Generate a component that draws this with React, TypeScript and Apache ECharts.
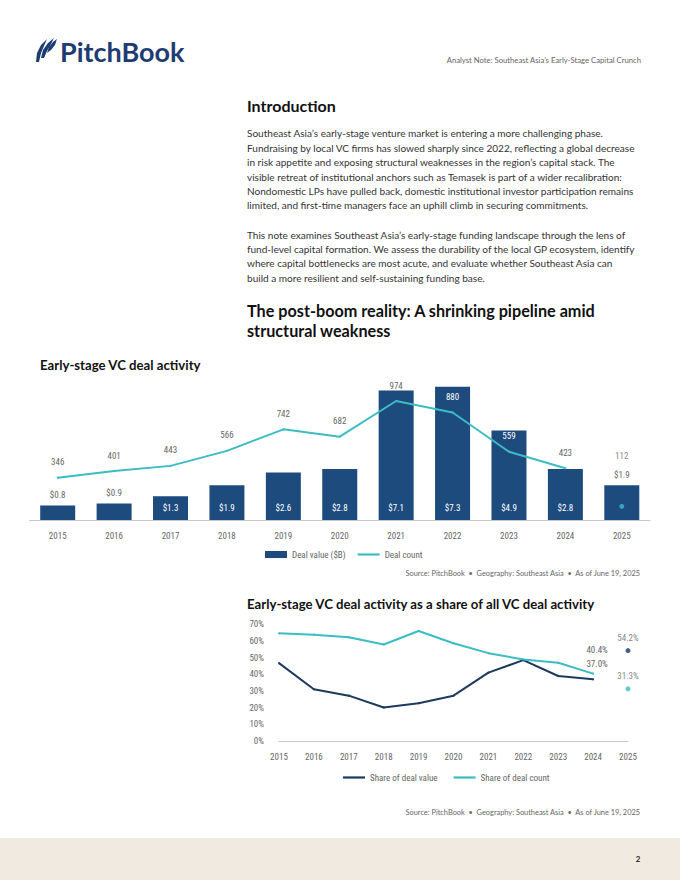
import React, { useEffect, useRef } from "react";
import * as echarts from "echarts";

const YEARS = ["2015", "2016", "2017", "2018", "2019", "2020", "2021", "2022", "2023", "2024", "2025"];
const DEAL_VALUE = [0.8, 0.9, 1.3, 1.9, 2.6, 2.8, 7.1, 7.3, 4.9, 2.8, 1.9];
const DEAL_COUNT = [346, 401, 443, 566, 742, 682, 974, 880, 559, 423, 112];
const SHARE_VALUE = [46.7, 31.0, 27.2, 20.1, 22.7, 27.2, 41.0, 48.5, 39.0, 37.0, 54.2];
const SHARE_COUNT = [64.6, 63.8, 62.2, 57.9, 66.0, 58.6, 52.7, 48.9, 46.9, 40.4, 31.3];
const PCT_TICKS = [0, 10, 20, 30, 40, 50, 60, 70];

const PARA1 = [
  "Southeast Asia\u2019s early-stage venture market is entering a more challenging phase.",
  "Fundraising by local VC firms has slowed sharply since 2022, reflecting a global decrease",
  "in risk appetite and exposing structural weaknesses in the region\u2019s capital stack. The",
  "visible retreat of institutional anchors such as Temasek is part of a wider recalibration:",
  "Nondomestic LPs have pulled back, domestic institutional investor participation remains",
  "limited, and first-time managers face an uphill climb in securing commitments.",
];
const PARA2 = [
  "This note examines Southeast Asia\u2019s early-stage funding landscape through the lens of",
  "fund-level capital formation. We assess the durability of the local GP ecosystem, identify",
  "where capital bottlenecks are most acute, and evaluate whether Southeast Asia can",
  "build a more resilient and self-sustaining funding base.",
];
const HEADING2 = ["The post-boom reality: A shrinking pipeline amid", "structural weakness"];
const SOURCE = "Source: PitchBook  \u2022  Geography: Southeast Asia  \u2022  As of June 19, 2025";

const NAVY_BAR = "#1d4b7e";
const NAVY_LINE = "#1c3a5e";
const TEAL = "#3cbcc3";
const GRAY = "#666666";
const BODY = "Lato, 'Open Sans', sans-serif";
const NUM = "'Liberation Sans Narrow', 'Roboto Condensed', 'DejaVu Sans Condensed', Roboto, sans-serif";

export default function App() {
  const ref = useRef<HTMLDivElement>(null);
  useEffect(() => {
    document.body.style.margin = "0";
    if (!ref.current) return;
    const chart = echarts.init(ref.current, null, { renderer: "svg" });
    const outsideBar = new Set([0, 1, 10]);
    const whiteCount = new Set([7, 8]);
    const lineIcon = "path://M0,0H20V2H0Z";
    const lbl = { fontSize: 9, fontFamily: NUM, fontWeight: "normal" as const };
    const pctFmt = (p: any) => Number(p.value).toFixed(1) + "%";
    const option: any = {
      animation: false,
      backgroundColor: "#ffffff",
      graphic: [
        { type: "rect", shape: { x: 0, y: 838, width: 680, height: 42 }, style: { fill: "#f1eae0" } },
        { type: "text", style: { text: "2", x: 638, y: 859, fontSize: 8, fontWeight: "bold", fontFamily: BODY, fill: "#222", verticalAlign: "middle", align: "center" } },
        { type: "polygon", shape: { points: [[36, 62], [37, 53], [41, 45], [47, 39], [44, 46], [41, 53], [39, 62]] }, style: { fill: "#1e3c72" } },
        { type: "polygon", shape: { points: [[41, 58], [43, 50], [48, 43], [54, 38], [51, 44], [47, 51], [44, 58]] }, style: { fill: "#1e3c72" } },
        { type: "polygon", shape: { points: [[47, 53], [49, 47], [53, 42], [57, 39], [55, 45], [51, 50]] }, style: { fill: "#1e3c72" } },
        { type: "text", style: { text: "PitchBook", x: 60, y: 51, fontSize: 27, fontWeight: "bold", fontFamily: BODY, fill: "#1e3c72", verticalAlign: "middle" } },
        { type: "text", style: { text: "Analyst Note: Southeast Asia\u2019s Early-Stage Capital Crunch", x: 641, y: 60, fontSize: 7.7, fontFamily: BODY, fill: "#666", align: "right", verticalAlign: "middle" } },
        { type: "text", style: { text: "Introduction", x: 247, y: 105, fontSize: 16, fontWeight: "bold", fontFamily: BODY, fill: "#111", verticalAlign: "middle" } },
        { type: "text", style: { text: PARA1.join("\n"), x: 247, y: 126.1, fontSize: 10.05, lineHeight: 14.4, fontFamily: BODY, fill: "#333", verticalAlign: "top" } },
        { type: "text", style: { text: PARA2.join("\n"), x: 247, y: 227.9, fontSize: 10.05, lineHeight: 14.2, fontFamily: BODY, fill: "#333", verticalAlign: "top" } },
        { type: "text", style: { text: HEADING2.join("\n"), x: 247, y: 301, fontSize: 16.2, lineHeight: 19.5, fontWeight: "bold", fontFamily: BODY, fill: "#111", verticalAlign: "top" } },
        { type: "text", style: { text: "Early-stage VC deal activity", x: 40, y: 365, fontSize: 13.2, fontWeight: "bold", fontFamily: BODY, fill: "#111", verticalAlign: "middle" } },
        { type: "text", style: { text: SOURCE, x: 640, y: 573, fontSize: 7.4, fontFamily: BODY, fill: GRAY, align: "right", verticalAlign: "middle" } },
        { type: "text", style: { text: "Early-stage VC deal activity as a share of all VC deal activity", x: 247, y: 604, fontSize: 13.2, fontWeight: "bold", fontFamily: BODY, fill: "#111", verticalAlign: "middle" } },
        { type: "text", style: { text: SOURCE, x: 640, y: 812, fontSize: 7.4, fontFamily: BODY, fill: GRAY, align: "right", verticalAlign: "middle" } },
      ],
      legend: [
        {
          left: 265, top: 550, padding: 0, itemWidth: 22, itemHeight: 7, itemGap: 12,
          textStyle: { ...lbl, color: GRAY },
          data: [
            { name: "Deal value ($B)", icon: "rect" },
            { name: "Deal count", icon: lineIcon },
          ],
        },
        {
          left: 343, top: 773, padding: 0, itemWidth: 22, itemHeight: 7, itemGap: 16,
          textStyle: { ...lbl, color: GRAY },
          data: [
            { name: "Share of deal value", icon: lineIcon },
            { name: "Share of deal count", icon: lineIcon },
          ],
        },
      ],
      grid: [
        { left: 29.5, right: 30, top: 374, height: 146 },
        { left: 279, right: 52, top: 624.3, height: 116.7 },
      ],
      xAxis: [
        {
          type: "category", gridIndex: 0, data: YEARS, boundaryGap: true,
          axisTick: { show: false },
          axisLine: { lineStyle: { color: "#c8c8c8", width: 1 } },
          axisLabel: { ...lbl, color: GRAY, margin: 11 },
        },
        {
          type: "category", gridIndex: 1, data: YEARS, boundaryGap: false,
          axisTick: { show: false },
          axisLine: { lineStyle: { color: "#c8c8c8", width: 1 } },
          axisLabel: { ...lbl, color: GRAY, margin: 11 },
        },
      ],
      yAxis: [
        { type: "value", gridIndex: 0, min: 0, max: 8, show: false, splitLine: { show: false } },
        { type: "value", gridIndex: 0, min: 0, max: 1195, show: false, splitLine: { show: false } },
        {
          type: "value", gridIndex: 1, min: 0, max: 70, interval: 10,
          axisLine: { show: false }, axisTick: { show: false }, splitLine: { show: false },
          axisLabel: { ...lbl, color: GRAY, margin: 15, formatter: (v: number) => (PCT_TICKS.includes(v) ? v + "%" : "") },
        },
      ],
      series: [
        {
          name: "Deal value ($B)", type: "bar", xAxisIndex: 0, yAxisIndex: 0, barWidth: 35,
          itemStyle: { color: NAVY_BAR },
          data: DEAL_VALUE.map((v, i) => ({
            value: v,
            label: outsideBar.has(i)
              ? { show: true, position: "top", distance: 6, color: GRAY, ...lbl, formatter: "${c}" }
              : { show: true, position: "insideBottom", distance: 8, color: "#ffffff", ...lbl, formatter: "${c}" },
          })),
        },
        {
          name: "Deal count", type: "line", xAxisIndex: 0, yAxisIndex: 1,
          symbol: "circle", symbolSize: 2, showSymbol: true,
          lineStyle: { color: TEAL, width: 2 }, itemStyle: { color: TEAL },
          data: DEAL_COUNT.slice(0, 10).map((v, i) => ({
            value: v,
            label: { show: true, position: "top", distance: 10, color: whiteCount.has(i) ? "#ffffff" : GRAY, ...lbl },
          })),
        },
        {
          name: "Deal count 2025", type: "scatter", xAxisIndex: 0, yAxisIndex: 1, symbolSize: 5,
          itemStyle: { color: TEAL },
          label: { show: true, position: "top", distance: 43, color: GRAY, ...lbl },
          data: DEAL_COUNT.map((v, i) => (i === 10 ? v : "-")),
        },
        {
          name: "Share of deal value", type: "line", xAxisIndex: 1, yAxisIndex: 2,
          symbol: "circle", symbolSize: 2, showSymbol: true,
          lineStyle: { color: NAVY_LINE, width: 2 }, itemStyle: { color: NAVY_LINE },
          data: SHARE_VALUE.slice(0, 10).map((v, i) =>
            i === 9
              ? { value: v, label: { show: true, position: "top", distance: 5, offset: [4, -5], color: GRAY, ...lbl, formatter: pctFmt } }
              : v
          ),
        },
        {
          name: "Share of deal count", type: "line", xAxisIndex: 1, yAxisIndex: 2,
          symbol: "circle", symbolSize: 2, showSymbol: true,
          lineStyle: { color: TEAL, width: 2 }, itemStyle: { color: TEAL },
          data: SHARE_COUNT.slice(0, 10).map((v, i) =>
            i === 9
              ? { value: v, label: { show: true, position: "top", distance: 5, offset: [4, -13], color: GRAY, ...lbl, formatter: pctFmt } }
              : v
          ),
        },
        {
          name: "Share of deal value 2025", type: "scatter", xAxisIndex: 1, yAxisIndex: 2, symbolSize: 5,
          itemStyle: { color: NAVY_LINE },
          label: { show: true, position: "top", distance: 6, color: GRAY, ...lbl, formatter: pctFmt },
          data: SHARE_VALUE.map((v, i) => (i === 10 ? v : "-")),
        },
        {
          name: "Share of deal count 2025", type: "scatter", xAxisIndex: 1, yAxisIndex: 2, symbolSize: 5,
          itemStyle: { color: TEAL },
          label: { show: true, position: "top", distance: 6, color: GRAY, ...lbl, formatter: pctFmt },
          data: SHARE_COUNT.map((v, i) => (i === 10 ? v : "-")),
        },
      ],
    };
    chart.setOption(option);
    return () => chart.dispose();
  }, []);
  return <div ref={ref} style={{ width: 680, height: 880 }} />;
}
